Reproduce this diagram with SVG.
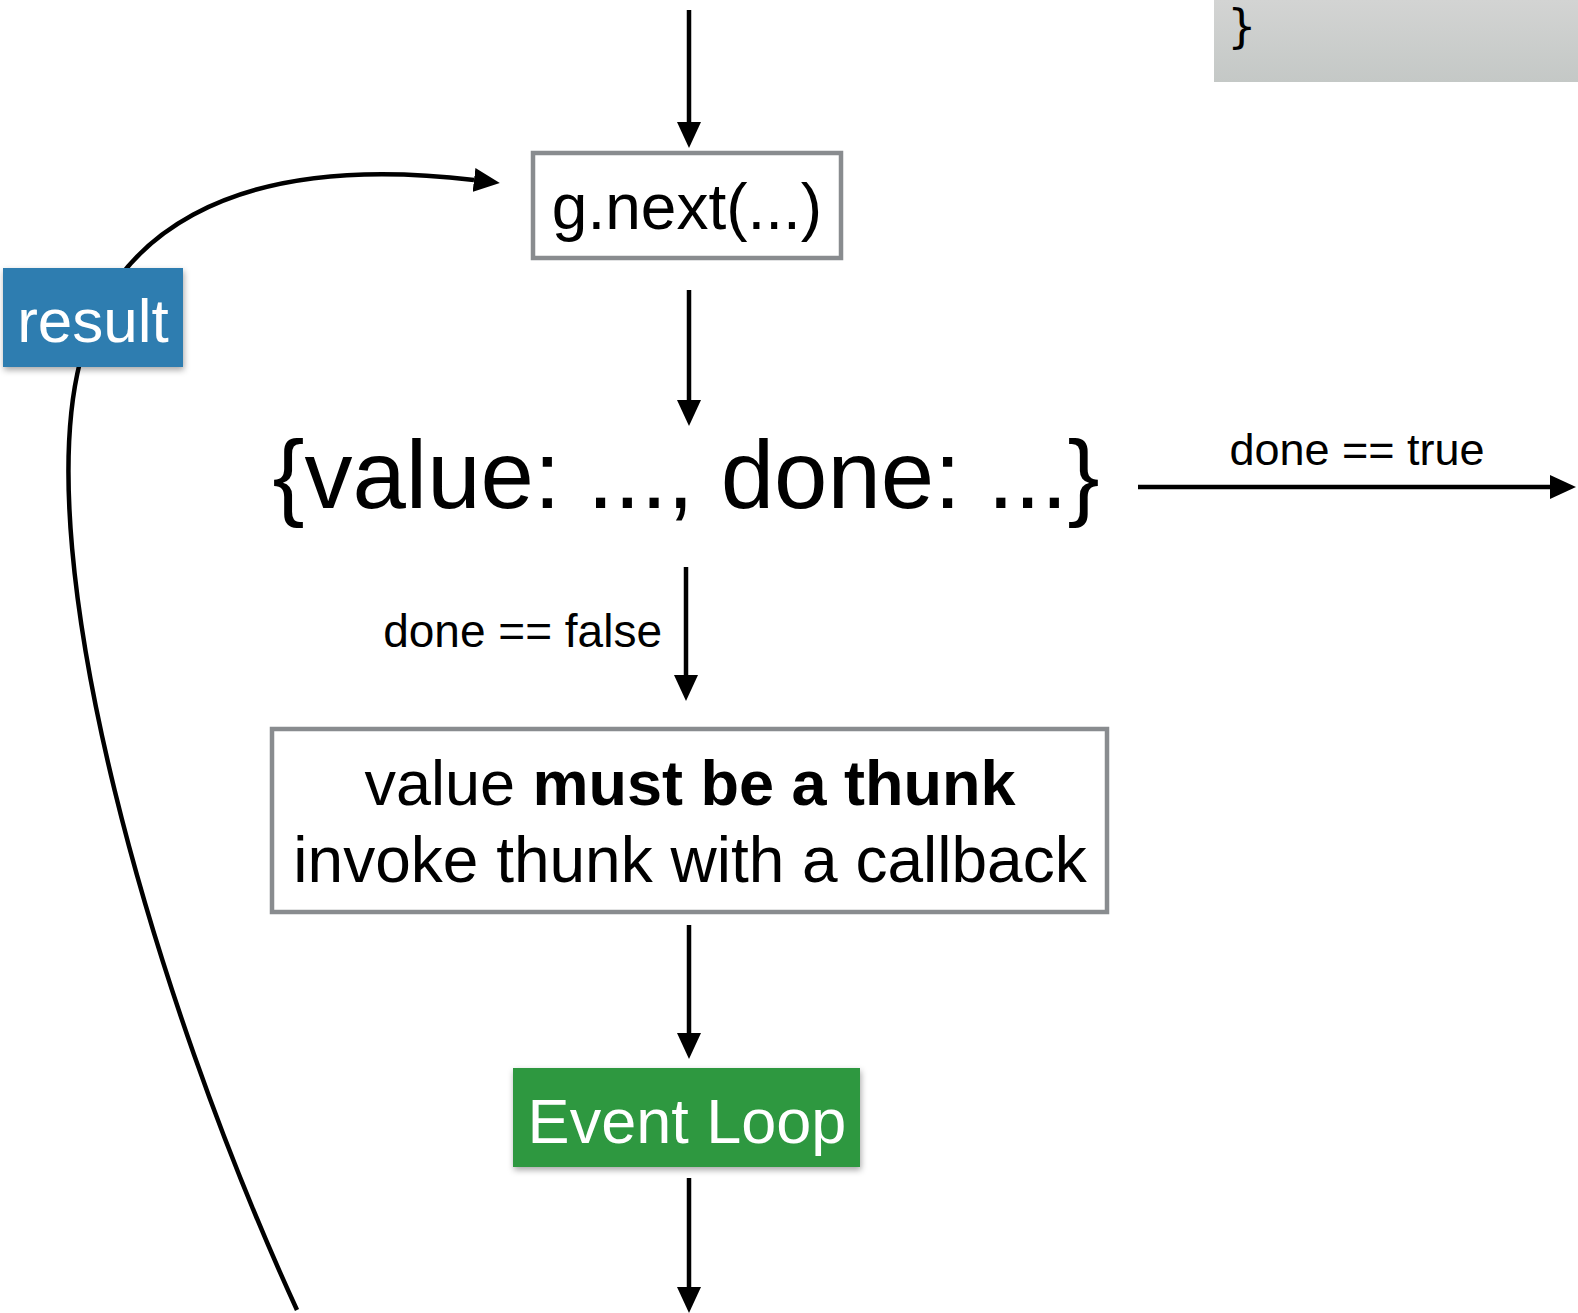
<svg xmlns="http://www.w3.org/2000/svg" width="1578" height="1313" viewBox="0 0 1578 1313">
<defs>
<style>
.t{font-family:"Liberation Sans",Arial,Helvetica,sans-serif;fill:#000;}
.w{fill:#fff;}
.ln{stroke:#000;stroke-width:4.5;fill:none;}
.box{fill:#fff;stroke:#898c8f;stroke-width:4.5;}
</style>
<marker id="ah" markerWidth="26" markerHeight="24" refX="0" refY="12" orient="auto" markerUnits="userSpaceOnUse">
<path d="M0,0 L26,12 L0,24 z" fill="#000"/>
</marker>
<linearGradient id="gg" x1="0" y1="0" x2="0" y2="1">
<stop offset="0" stop-color="#d3d4d3"/>
<stop offset="1" stop-color="#c4c8c6"/>
</linearGradient>
<filter id="sh" x="-10%" y="-10%" width="125%" height="135%">
<feDropShadow dx="1" dy="3" stdDeviation="3" flood-color="#000" flood-opacity="0.35"/>
</filter>
</defs>
<rect x="0" y="0" width="1578" height="1313" fill="#fff"/>

<g id="code-panel">
<rect x="1214" y="0" width="364" height="82" fill="url(#gg)"/>
<text x="1228" y="42" style="font-family:'DejaVu Sans Mono','Liberation Mono',monospace;font-size:46px;fill:#000">}</text>
</g>

<g id="connectors">
<line class="ln" x1="689" y1="10" x2="689" y2="122" marker-end="url(#ah)"/>
<line class="ln" x1="689" y1="290" x2="689" y2="400" marker-end="url(#ah)"/>
<line class="ln" x1="1138" y1="487" x2="1550" y2="487" marker-end="url(#ah)"/>
<line class="ln" x1="686" y1="567" x2="686" y2="675" marker-end="url(#ah)"/>
<line class="ln" x1="689" y1="925" x2="689" y2="1033" marker-end="url(#ah)"/>
<line class="ln" x1="689" y1="1178" x2="689" y2="1287" marker-end="url(#ah)"/>
<path class="ln" d="M297,1310 C150,990 30,560 80,362 C110,242 220,150 474,180" marker-end="url(#ah)"/>
<text class="t" x="1357" y="465" font-size="45" text-anchor="middle">done == true</text>
<text class="t" x="662" y="647" font-size="46" text-anchor="end">done == false</text>
</g>

<g id="node-next">
<rect class="box" x="533" y="153" width="308" height="105"/>
<text class="t" x="687" y="229" font-size="64" text-anchor="middle">g.next(...)</text>
</g>

<g id="node-result-obj">
<text class="t" x="686" y="508" font-size="96" text-anchor="middle">{value: ..., done: ...}</text>
</g>

<g id="node-thunk">
<rect class="box" x="272" y="729" width="835" height="183"/>
<text class="t" x="690" y="805" font-size="63" text-anchor="middle">value <tspan font-weight="bold">must be a thunk</tspan></text>
<text class="t" x="690" y="882" font-size="64" text-anchor="middle">invoke thunk with a callback</text>
</g>

<g id="node-event-loop">
<rect x="513" y="1068" width="347" height="99" fill="#2f983f" filter="url(#sh)"/>
<text class="t w" x="687" y="1143" font-size="63" text-anchor="middle">Event Loop</text>
</g>

<g id="node-result">
<rect x="3" y="268" width="180" height="99" fill="#2e7db0" filter="url(#sh)"/>
<text class="t w" x="93" y="342" font-size="62" text-anchor="middle">result</text>
</g>
</svg>
